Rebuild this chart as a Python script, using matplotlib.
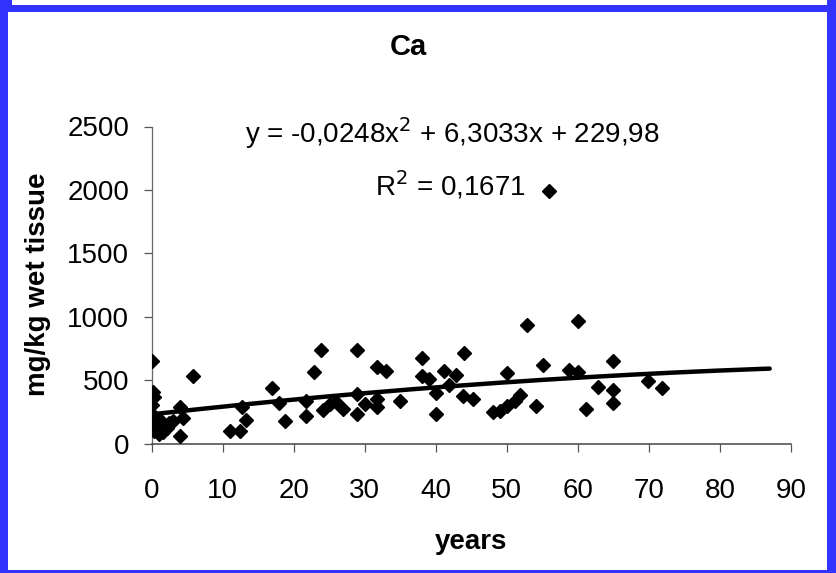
import matplotlib
matplotlib.use("Agg")
import matplotlib.pyplot as plt
from matplotlib.patches import Rectangle
import numpy as np

plt.rcParams['font.family'] = ['Liberation Sans', 'DejaVu Sans']

# Data
years = [0, 0.2, 0.3, 0, 0, 0, 0.4, 1.1, 1.0, 1.6, 1.8, 2.2, 2.5, 3.0, 4.0, 4.5, 4.0, 5.8,
         11.0, 12.4, 12.8, 13.3, 16.9, 18.0, 18.8,
         21.8, 21.8, 22.9, 23.9, 24.1, 25.1, 26.0, 26.9, 28.9, 28.9, 28.9, 30.0,
         31.8, 31.8, 31.8, 33.0, 35.0, 38.0, 38.0, 39.0, 40.1, 40.1,
         41.1, 41.9, 42.9, 44.0, 43.8, 45.2, 48.1, 49.1, 50.0, 50.0, 51.1, 51.9,
         52.9, 54.1, 55.1, 55.9, 58.8, 60.0, 60.0, 61.1,
         62.9, 65.0, 65.0, 65.0, 69.9, 71.8]
ca = [653, 410, 365, 300, 235, 165, 100, 190, 75, 90, 135, 125, 165, 180, 290, 200, 60, 530,
      100, 100, 285, 185, 440, 320, 180,
      336, 215, 566, 740, 268, 310, 330, 272, 740, 389, 230, 315,
      601, 349, 285, 570, 332, 678, 534, 508, 402, 234,
      574, 462, 544, 713, 373, 352, 246, 257, 298, 558, 332, 381,
      934, 299, 619, 1994, 578, 963, 560, 276,
      442, 653, 419, 317, 494, 434]

coef = [-0.0248, 6.3033, 229.98]
fit_end = 87
x_ticks = list(range(0, 100, 10))
y_ticks = [0, 500, 1000, 1500, 2000, 2500]

W, H = 836, 573
fig = plt.figure(figsize=(W / 100, H / 100), dpi=100)
fig.patch.set_facecolor('white')

blue = '#3333ff'
for (x0, y0, w, h) in [(0, 0, 8, H), (W - 9, 0, 9, H), (0, H - 12, W, 7), (0, 0, W, 3),
                       (0, H - 12, 12, 12), (W - 6, H - 12, 6, 12)]:
    fig.patches.append(Rectangle((x0 / W, y0 / H), w / W, h / H, transform=fig.transFigure,
                                 facecolor=blue, edgecolor='none', zorder=10))

ax = fig.add_axes([151.5 / W, 1 - 443.5 / H, (791 - 151.5) / W, (443.5 - 126.5) / H])
ax.set_xlim(0, 90)
ax.set_ylim(0, 2500)
ax.set_xticks(x_ticks)
ax.set_yticks(y_ticks)
for s in ['top', 'right']:
    ax.spines[s].set_visible(False)
ax.spines['left'].set_color('#666666')
ax.spines['left'].set_linewidth(0.9)
ax.spines['bottom'].set_color('#444444')
ax.spines['bottom'].set_linewidth(1.1)
ax.tick_params(axis='both', direction='out', length=6, width=0.9, color='#555555',
               labelsize=20, labelcolor='black')
ax.tick_params(axis='x', pad=19)
ax.tick_params(axis='y', pad=10)

xs = np.linspace(0, fit_end, 200)
ax.plot(xs, np.polyval(coef, xs), color='black', lw=3.2, solid_capstyle='round', zorder=2)
ax.plot(years, ca, linestyle='none', marker='D', ms=7.5, color='black', zorder=3)

fig.text(408 / W, 1 - 47 / H, 'Ca', ha='center', va='center', fontsize=21, fontweight='bold')
fig.text(38 / W, 1 - 284 / H, 'mg/kg wet tissue', ha='center', va='center', rotation=90,
         fontsize=20, fontweight='bold')
fig.text(471 / W, 1 - 542 / H, 'years', ha='center', va='center', fontsize=20, fontweight='bold')
fig.text(452 / W, 1 - 133 / H, r'y = -0,0248x$^2$ + 6,3033x + 229,98', ha='center', va='center',
         fontsize=20)
fig.text(450 / W, 1 - 185 / H, r'R$^2$ = 0,1671', ha='center', va='center', fontsize=20)

fig.savefig('out.png', dpi=100, facecolor='white')
